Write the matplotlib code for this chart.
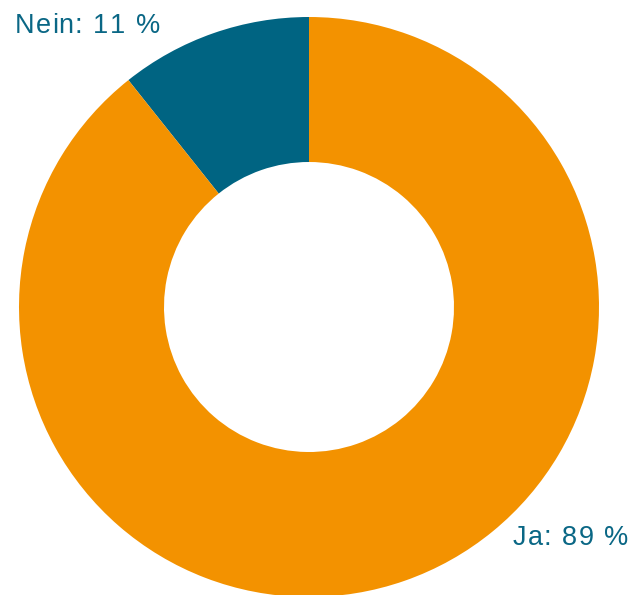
import matplotlib
matplotlib.use("Agg")
import matplotlib.pyplot as plt
from matplotlib import font_manager
from matplotlib.ft2font import FT2Font

categories = ["Nein", "Ja"]
values = [10.7, 89.3]
colors = ["#006482", "#F39200"]
text_color = "#0A6785"

plt.rcParams['font.family'] = ['Liberation Sans', 'DejaVu Sans']

DPI = 100
fig = plt.figure(figsize=(6.36, 5.95), dpi=DPI)
ax = fig.add_axes([0, 0, 1, 1])
H = 595
ax.pie(values, colors=colors, startangle=90, counterclock=True,
       center=(309, H - 307), radius=290,
       wedgeprops=dict(width=145, linewidth=0), frame=False)
ax.set_xlim(0, 636)
ax.set_ylim(0, H)
ax.set_aspect('equal')
ax.axis('off')

FS = 19.5
TRACK = 1.0        # letter spacing in px
SPACE_EXTRA = 1.5  # extra word spacing in px
fpath = font_manager.findfont(font_manager.FontProperties(family='Liberation Sans'))
ft = FT2Font(fpath)
ft.set_size(FS, DPI)


def spaced_text(x, y, s):
    for ch in s:
        if ch != " ":
            ax.text(x, y, ch, color=text_color, fontsize=FS, family='Liberation Sans',
                    ha='left', va='baseline')
        x += ft.load_char(ord(ch)).linearHoriAdvance / 65536.0 + TRACK
        if ch == " ":
            x += SPACE_EXTRA


label_pos = [(15, H - 33), (513, H - 545)]
for cat, v, (x, y) in zip(categories, values, label_pos):
    spaced_text(x, y, f"{cat}: {round(v)} %")

fig.savefig("out.png", dpi=DPI)
